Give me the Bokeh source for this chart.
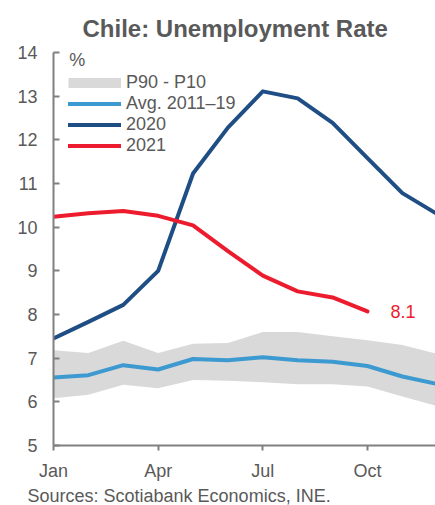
from bokeh.plotting import figure
from bokeh.models import (Range1d, FixedTicker, Legend, LegendItem, Label, Title)
from bokeh.embed import file_html
from bokeh.resources import INLINE

# ---- data ----
months = ["Jan", "Feb", "Mar", "Apr", "May", "Jun", "Jul", "Aug", "Sep", "Oct", "Nov", "Dec"]
month_idx = list(range(12))
p90 = [7.18, 7.12, 7.40, 7.12, 7.33, 7.35, 7.60, 7.60, 7.50, 7.41, 7.30, 7.10]
p10 = [6.08, 6.16, 6.39, 6.31, 6.50, 6.48, 6.45, 6.40, 6.40, 6.35, 6.12, 5.90]
avg_2011_19 = [6.56, 6.61, 6.84, 6.74, 6.98, 6.95, 7.02, 6.95, 6.92, 6.82, 6.58, 6.41]
y2020 = [7.45, 7.83, 8.22, 9.00, 11.23, 12.28, 13.11, 12.95, 12.39, 11.58, 10.78, 10.30]
y2021 = [10.24, 10.32, 10.37, 10.26, 10.04, 9.45, 8.89, 8.53, 8.39, 8.07]
x_ticks = [0, 3, 6, 9]
x_tick_labels = ["Jan", "Apr", "Jul", "Oct"]
y_ticks = [5, 6, 7, 8, 9, 10, 11, 12, 13, 14]

FONT = "Liberation Sans"
GRAY_TXT = "#595959"
C2020 = "#1f4e85"
C2021 = "#ec1c2e"
CAVG = "#3d9ad1"
CBAND = "#d9d9d9"

p = figure(width=435, height=505, output_backend="svg", toolbar_location=None,
           x_range=Range1d(0, 10.95), y_range=Range1d(5, 14),
           min_border_left=53, min_border_right=0, min_border_top=52, min_border_bottom=57)
p.outline_line_color = None
p.xgrid.visible = False
p.ygrid.visible = False
p.background_fill_color = "white"
p.border_fill_color = "white"

p.title.text = "Chile: Unemployment Rate"
p.title.align = "left"
p.title.offset = 29
p.title.text_font = FONT
p.title.text_font_size = "24px"
p.title.text_font_style = "bold"
p.title.text_color = GRAY_TXT
p.title.standoff = 22

src_title = Title(text="Sources: Scotiabank Economics, INE.", align="left", offset=-26,
                  text_font=FONT, text_font_size="18px", text_font_style="normal",
                  text_color=GRAY_TXT, standoff=0)
p.add_layout(src_title, "below")

band = p.varea(x=month_idx, y1=p10, y2=p90, fill_color=CBAND)
band_leg = p.line(x=[float("nan")], y=[float("nan")], line_color=CBAND, line_width=10, line_cap="butt")
l_avg = p.line(x=month_idx, y=avg_2011_19, line_color=CAVG, line_width=4, line_join="round", line_cap="round")
l_2020 = p.line(x=month_idx, y=y2020, line_color=C2020, line_width=4, line_join="round", line_cap="round")
l_2021 = p.line(x=month_idx[:len(y2021)], y=y2021, line_color=C2021, line_width=4, line_join="round", line_cap="round")

legend = Legend(items=[
    LegendItem(label="P90 - P10", renderers=[band_leg]),
    LegendItem(label="Avg. 2011\u201319", renderers=[l_avg]),
    LegendItem(label="2020", renderers=[l_2020]),
    LegendItem(label="2021", renderers=[l_2021]),
], location=(15, 289), orientation="vertical")
legend.background_fill_alpha = 0
legend.border_line_color = None
legend.padding = 0
legend.margin = 0
legend.spacing = 0
legend.glyph_width = 53
legend.glyph_height = 21
legend.label_height = 21
legend.label_standoff = 5
legend.label_text_font = FONT
legend.label_text_font_size = "18px"
legend.label_text_color = GRAY_TXT
p.add_layout(legend, "center")

# axes
for ax in (p.xaxis[0], p.yaxis[0]):
    ax.axis_line_color = "#808080"
    ax.axis_line_width = 2
    ax.major_tick_line_color = "#808080"
    ax.major_tick_line_width = 2
    ax.minor_tick_line_color = None
    ax.major_label_text_font = FONT
    ax.major_label_text_font_size = "18px"
    ax.major_label_text_color = GRAY_TXT

p.xaxis.ticker = FixedTicker(ticks=x_ticks)
p.xaxis.major_label_overrides = {t: l for t, l in zip(x_ticks, x_tick_labels)}
p.xaxis.major_tick_out = 5
p.xaxis.major_tick_in = 0
p.xaxis.major_label_standoff = 10

p.yaxis.ticker = FixedTicker(ticks=y_ticks)
p.yaxis.major_tick_in = 6
p.yaxis.major_tick_out = 0
p.yaxis.major_label_standoff = 16

p.add_layout(Label(x=0.45, y=13.83, text="%", text_font=FONT, text_font_size="18px",
                   text_color=GRAY_TXT, text_align="left", text_baseline="alphabetic"))
p.add_layout(Label(x=9.66, y=y2021[-1], text=f"{y2021[-1]:.1f}", text_font=FONT, text_font_size="18px",
                   text_color=C2021, text_align="left", text_baseline="middle"))

open("out.html", "w").write(file_html(p, INLINE))
